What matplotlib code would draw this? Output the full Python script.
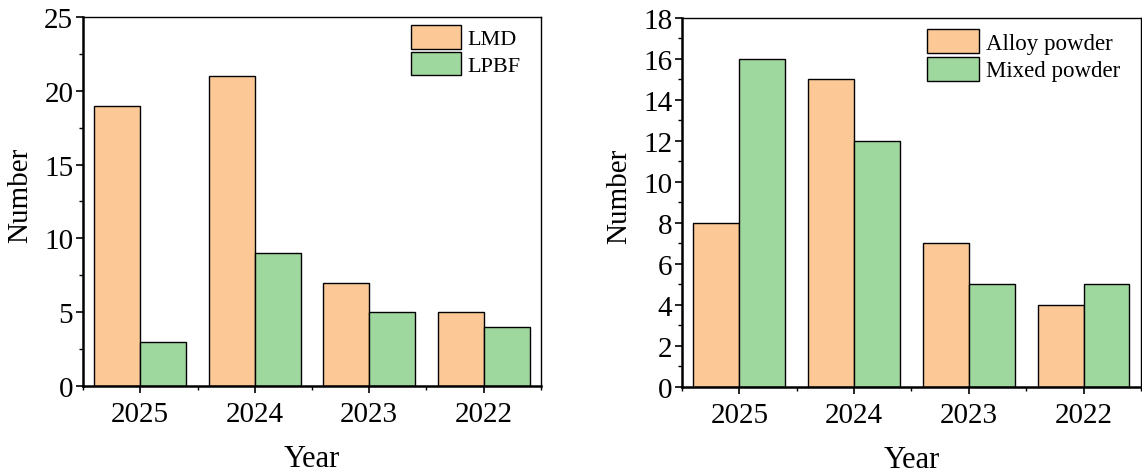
import matplotlib
matplotlib.use("Agg")
import matplotlib.pyplot as plt
import numpy as np
from matplotlib.ticker import MultipleLocator, FixedLocator

# Publication counts per year
years = ["2025", "2024", "2023", "2022"]
lmd = [19, 21, 7, 5]
lpbf = [3, 9, 5, 4]
alloy_powder = [8, 15, 7, 4]
mixed_powder = [16, 12, 5, 5]

COLOR_A = "#FCC896"
COLOR_B = "#9ED89E"

plt.rcParams.update({
    "font.family": ["Liberation Serif", "DejaVu Serif"],
    "font.size": 20,
    "axes.linewidth": 1.0,
})

fig = plt.figure(figsize=(11.42, 4.77), dpi=100)
ax1 = fig.add_axes([0.0727, 0.1887, 0.401, 0.7736])
ax2 = fig.add_axes([0.5972, 0.1866, 0.4019, 0.7736])

x = np.arange(len(years))
w = 0.4


def draw_panel(ax, a, b, labels, ymax, major, minor, legend_size, legend_anchor):
    ax.bar(x - w / 2, a, w, color=COLOR_A, edgecolor="black", linewidth=1.0, label=labels[0])
    ax.bar(x + w / 2, b, w, color=COLOR_B, edgecolor="black", linewidth=1.0, label=labels[1])
    ax.set_xlim(-0.5, len(years) - 0.5)
    ax.set_ylim(0, ymax)
    ax.set_xticks(x)
    ax.set_xticklabels(years)
    ax.xaxis.set_minor_locator(FixedLocator(np.arange(-0.5, len(years), 1.0)))
    ax.yaxis.set_major_locator(MultipleLocator(major))
    ax.yaxis.set_minor_locator(MultipleLocator(minor))
    ax.tick_params(which="major", direction="out", length=5, width=1.2, labelsize=21)
    ax.tick_params(which="minor", direction="out", length=3, width=1.0)
    ax.tick_params(axis="x", which="major", pad=6)
    ax.tick_params(axis="y", which="major", pad=2)
    ax.spines["left"].set_linewidth(1.8)
    ax.spines["bottom"].set_linewidth(1.8)
    ax.set_xlabel("Year", fontsize=22, labelpad=12)
    ax.set_ylabel("Number", fontsize=21)
    ax.yaxis.set_label_coords(-0.109, 0.52)
    ax.legend(loc="upper right", bbox_to_anchor=legend_anchor, frameon=False,
              fontsize=legend_size, handlelength=2.25, handleheight=1.25,
              labelspacing=0.12, handletextpad=0.3, borderaxespad=0, borderpad=0)


draw_panel(ax1, lmd, lpbf, ["LMD", "LPBF"], 25, 5, 2.5, 16, (0.956, 0.978))
draw_panel(ax2, alloy_powder, mixed_powder, ["Alloy powder", "Mixed powder"], 18, 2, 1, 16.5, (0.954, 0.970))

fig.savefig("out.png", dpi=100)
